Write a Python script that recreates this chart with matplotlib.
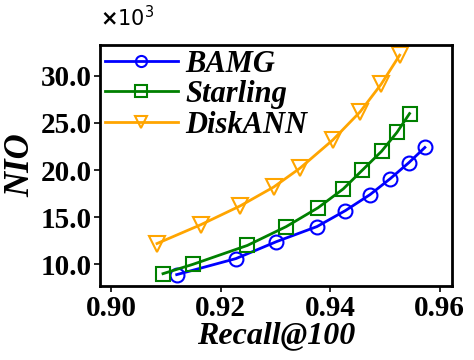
import numpy as np
import matplotlib.pyplot as plt

# recall@100 vs number of I/Os (in thousands)
bamg_recall = [0.9120, 0.9228, 0.9302, 0.9376, 0.9428, 0.9473, 0.9510, 0.9544, 0.9573]
bamg_nio = [8.9, 10.6, 12.4, 14.0, 15.7, 17.4, 19.1, 20.8, 22.4]

starling_recall = [0.9095, 0.9150, 0.9249, 0.9320, 0.9378, 0.9424, 0.9459, 0.9494, 0.9522, 0.9545]
starling_nio = [9.0, 10.0, 12.0, 14.0, 16.0, 18.0, 20.0, 22.0, 24.0, 26.0]

diskann_recall = [0.9084, 0.9164, 0.9236, 0.9297, 0.9345, 0.9405, 0.9455, 0.9493, 0.9527]
diskann_nio = [12.2, 14.2, 16.2, 18.2, 20.2, 23.2, 26.2, 29.1, 32.2]

xticks = [0.90, 0.92, 0.94, 0.96]
yticks = [10.0, 15.0, 20.0, 25.0, 30.0]

plt.rcParams['font.family'] = 'Liberation Serif'
plt.rcParams['font.weight'] = 'bold'

fig = plt.figure(figsize=(4.74, 3.6), dpi=100)
ax = fig.add_axes([0.211, 0.205, 0.742, 0.670])

ax.plot(bamg_recall, bamg_nio, color='#0000ff', marker='o', markersize=10,
        markerfacecolor='none', markeredgewidth=1.5, linewidth=2, label='BAMG')
ax.plot(starling_recall, starling_nio, color='green', marker='s', markersize=10,
        markerfacecolor='none', markeredgewidth=1.5, linewidth=2, label='Starling')
ax.plot(diskann_recall, diskann_nio, color='orange', marker='v', markersize=11,
        markerfacecolor='none', markeredgewidth=1.5, linewidth=2, label='DiskANN')

ax.set_xlim(0.898, 0.9622)
ax.set_ylim(7.67, 33.28)
ax.set_xticks(xticks)
ax.set_yticks(yticks)
ax.set_xticklabels(['%.2f' % v for v in xticks], fontsize=21, fontweight='bold')
ax.set_yticklabels(['%.1f' % v for v in yticks], fontsize=21, fontweight='bold')
ax.tick_params(direction='out', length=4, width=1.2, pad=2)

for s in ax.spines.values():
    s.set_linewidth(2)

ax.set_xlabel('Recall@100', fontsize=23, fontweight='bold', style='italic', labelpad=0)
ax.set_ylabel('NIO', fontsize=25, fontweight='bold', style='italic', labelpad=2)

ax.text(0.0, 1.06, r'$\times\mathregular{10^{3}}$', transform=ax.transAxes,
        fontsize=15, family='DejaVu Sans', fontweight='normal', va='bottom', ha='left')

leg = ax.legend(loc='upper left', frameon=False, markerscale=0.8,
                handlelength=2.4, handletextpad=0.25, labelspacing=0.05,
                borderaxespad=0.0, borderpad=0.15,
                prop={'weight': 'bold', 'style': 'italic', 'size': 22})

fig.savefig('out.png', dpi=100)
